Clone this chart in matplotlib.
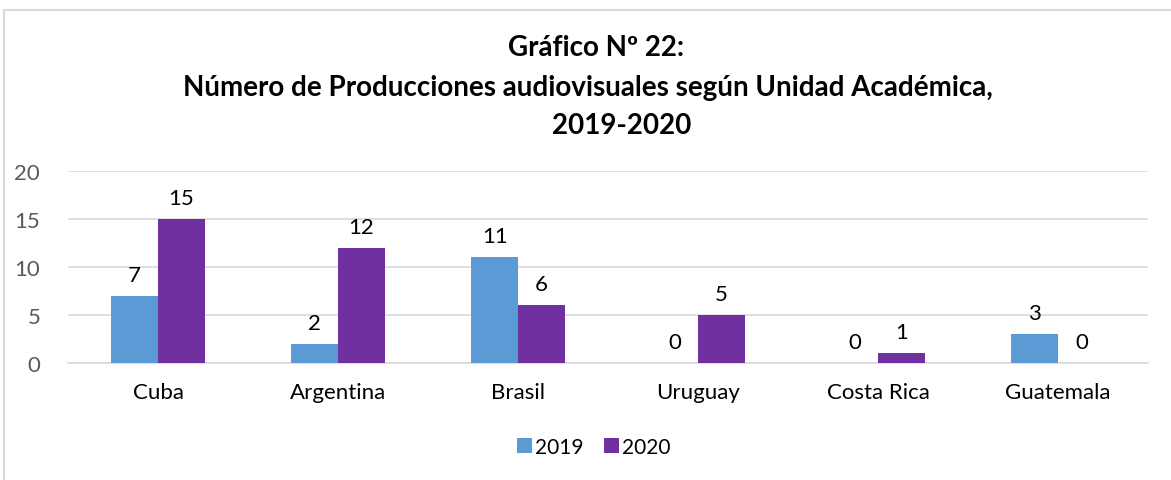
import matplotlib
matplotlib.use("Agg")
import matplotlib.pyplot as plt
from matplotlib.lines import Line2D
import numpy as np

categories = ["Cuba", "Argentina", "Brasil", "Uruguay", "Costa Rica", "Guatemala"]
series_names = ["2019", "2020"]
values_2019 = [7, 2, 11, 0, 0, 3]
values_2020 = [15, 12, 6, 5, 1, 0]
yticks = [0, 5, 10, 15, 20]
colors = ["#5B9BD5", "#7030A0"]
title_lines = ["Gráfico Nº 22:",
               "Número de Producciones audiovisuales según Unidad Académica,",
               "2019-2020"]

plt.rcParams['font.family'] = ['Lato', 'DejaVu Sans']

W, H = 1171, 481
fig = plt.figure(figsize=(W / 100, H / 100), dpi=100)
ax = fig.add_axes([68 / W, 1 - 364 / H, (1148 - 68) / W, (364 - 172) / H])

x = np.arange(len(categories))
bw = 0.26
b1 = ax.bar(x - bw / 2, values_2019, bw, color=colors[0], label=series_names[0], zorder=3)
b2 = ax.bar(x + bw / 2, values_2020, bw, color=colors[1], label=series_names[1], zorder=3)
for bars in (b1, b2):
    ax.bar_label(bars, padding=8, fontsize=16, color="#000000")

ax.set_xlim(-0.5, len(categories) - 0.5)
ax.set_ylim(0, 20)
ax.set_yticks(yticks)
ax.set_xticks(x)
ax.set_xticklabels(categories, fontsize=16, color="#000000")
ax.tick_params(axis="y", labelsize=16, labelcolor="#595959", length=0, pad=20)
ax.tick_params(axis="x", length=0, pad=14)
ax.grid(axis="y", color="#D9D9D9", linewidth=1.2, zorder=0)
for s in ["top", "right", "left"]:
    ax.spines[s].set_visible(False)
ax.spines["bottom"].set_color("#D9D9D9")
ax.spines["bottom"].set_linewidth(1.2)

title_pos = [(596, 48), (588, 88), (622, 126)]
for line, (tx, ty) in zip(title_lines, title_pos):
    fig.text(tx / W, 1 - ty / H, line, ha="center", va="center",
             fontsize=20, fontweight="bold")

fig.legend(handles=[b1, b2], labels=series_names, loc="center",
           bbox_to_anchor=(594 / W, 1 - 448 / H), ncol=2, frameon=False,
           fontsize=15, handlelength=0.7, handleheight=0.7, handletextpad=0.15,
           columnspacing=1.0)

fig.add_artist(Line2D([4 / W, 4 / W], [0, 1 - 11 / H], transform=fig.transFigure,
                      color="#D9D9D9", linewidth=1.5))
fig.add_artist(Line2D([4 / W, 1], [1 - 11 / H, 1 - 11 / H], transform=fig.transFigure,
                      color="#D9D9D9", linewidth=1.5))

fig.savefig("out.png", dpi=100, facecolor="white")
